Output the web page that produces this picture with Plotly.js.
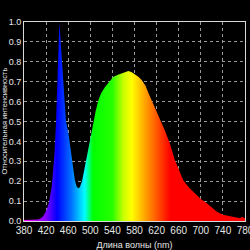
<!DOCTYPE html>
<html>
<head>
<meta charset="utf-8">
<script src="https://cdn.plot.ly/plotly-3.0.1.min.js"></script>
<style>html,body{margin:0;padding:0;background:#000;}#chart{width:250px;height:250px;}</style>
</head>
<body>
<div id="chart"></div>
<script>
const wavelengths = [380,390,400,405,410,415,420,425,430,435,438,441,443,444,445,447,450,453,456,460,464,468,472,475,478,481,485,490,495,500,505,510,515,520,527,535,542,550,558,563,569,575,580,587,593,600,605,611,618,626,635,644,653,660,668,678,689,700,711,720,729,740,753,760,765,770,775,780];
const intensity = [0.005,0.005,0.006,0.008,0.013,0.025,0.05,0.09,0.17,0.33,0.5,0.76,0.94,1.0,0.96,0.88,0.76,0.62,0.5,0.45,0.36,0.27,0.206,0.175,0.164,0.17,0.2,0.27,0.34,0.42,0.49,0.555,0.61,0.645,0.675,0.705,0.725,0.735,0.742,0.748,0.754,0.748,0.74,0.725,0.709,0.68,0.645,0.608,0.56,0.508,0.455,0.39,0.307,0.26,0.206,0.17,0.139,0.11,0.089,0.067,0.047,0.032,0.022,0.02,0.018,0.014,0.02,0.012];
const xTicks = [380,420,460,500,540,580,620,660,700,740,780];
const yTicks = [0,0.1,0.2,0.3,0.4,0.5,0.6,0.7,0.8,0.9,1.0];
const xTitle = 'Длина волны (nm)';
const yTitle = 'Относительная интенсивность';
const colorWavelengths = [380,420,440,465,490,505,540,560,575,600,625,645,780];
const colorValues = ['rgb(255,0,255)','rgb(128,0,255)','rgb(0,0,255)','rgb(0,110,255)','rgb(0,255,255)','rgb(0,255,0)','rgb(40,255,0)','rgb(200,255,0)','rgb(255,255,0)','rgb(255,160,0)','rgb(255,70,0)','rgb(255,0,0)','rgb(255,0,0)'];

const lo = xTicks[0], hi = xTicks[xTicks.length-1];
const colorscale = colorWavelengths.map((w,i)=>[(w-lo)/(hi-lo), colorValues[i]]);

const trace = {
  x: wavelengths, y: intensity, type:'scatter', mode:'lines',
  line:{width:0, color:'rgba(0,0,0,0)'},
  fill:'tozeroy',
  fillgradient:{type:'horizontal', colorscale: colorscale, start: lo, stop: hi},
  hoverinfo:'skip'
};
const font = {family:'Liberation Sans, Arial, sans-serif', color:'#e6e6e6', size:10};
const layout = {
  width:250, height:250,
  margin:{l:24, r:5, t:22, b:29},
  paper_bgcolor:'#000', plot_bgcolor:'#000',
  showlegend:false,
  font: font,
  xaxis:{
    range:[lo,hi], tickvals:xTicks, ticktext:xTicks.map(String),
    showgrid:true, gridcolor:'#9a9a9a', griddash:'dot', gridwidth:1,
    showline:true, linecolor:'#d9d9d9', linewidth:1, mirror:true,
    ticks:'', zeroline:false, ticklabeloverflow:'allow',
    tickfont:{size:10, color:'#e6e6e6'},
    title:{text:xTitle, font:{size:9, color:'#e6e6e6'}}
  },
  yaxis:{
    range:[0,1], tickvals:yTicks, tickformat:'.1f',
    showgrid:true, gridcolor:'#9a9a9a', griddash:'dot', gridwidth:1,
    showline:true, linecolor:'#d9d9d9', linewidth:1, mirror:true,
    ticks:'', zeroline:false, ticklabeloverflow:'allow',
    tickfont:{size:9, color:'#e6e6e6'}
  },
  annotations:[{
    text:yTitle, textangle:-90, showarrow:false,
    xref:'paper', yref:'paper', x:-20/221, y:0.5, xanchor:'center', yanchor:'middle',
    font:{size:7.5, color:'#e6e6e6', family:'Liberation Sans, Arial, sans-serif'}
  }]
};
Plotly.newPlot('chart',[trace],layout,{staticPlot:true, displayModeBar:false});
</script>
</body>
</html>
